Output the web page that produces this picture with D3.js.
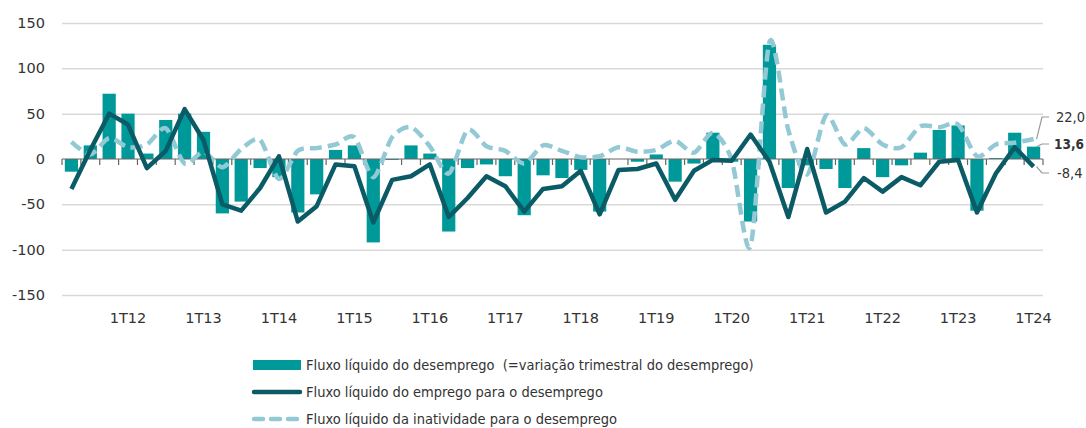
<!DOCTYPE html>
<html>
<head>
<meta charset="utf-8">
<script src="https://cdn.jsdelivr.net/npm/d3@7"></script>
<style>
  body { margin: 0; background: #fff; }
  svg { display: block; }
  .axis text { font-family: "DejaVu Sans", Verdana, sans-serif; font-size: 14.5px; fill: #333; }
  .legend text { font-family: "DejaVu Sans Condensed", "DejaVu Sans", sans-serif; font-size: 14.5px; fill: #333; }
  .endlabel { font-family: "DejaVu Sans Condensed", "DejaVu Sans", sans-serif; font-size: 14.5px; fill: #333; }
</style>
</head>
<body>
<div id="chart-area"></div>
<script>
// trimestres 2T11 .. 1T24
let trimestres = [
  '2T11', '3T11', '4T11',
  '1T12', '2T12', '3T12', '4T12',
  '1T13', '2T13', '3T13', '4T13',
  '1T14', '2T14', '3T14', '4T14',
  '1T15', '2T15', '3T15', '4T15',
  '1T16', '2T16', '3T16', '4T16',
  '1T17', '2T17', '3T17', '4T17',
  '1T18', '2T18', '3T18', '4T18',
  '1T19', '2T19', '3T19', '4T19',
  '1T20', '2T20', '3T20', '4T20',
  '1T21', '2T21', '3T21', '4T21',
  '1T22', '2T22', '3T22', '4T22',
  '1T23', '2T23', '3T23', '4T23',
  '1T24'
]

// fluxo liquido do desemprego (barras)
let desemprego = [-14, 15, 72, 50, 6, 43, 50, 30, -60, -47, -10, -20, -59, -39, 10, 15,
  -92, -1, 15, 6, -80, -10, -6, -19, -62, -18, -21, -12, -58, 0, -3, 5,
  -25, -5, 29, -3, -69, 126, -32, -7, -11, -32, 12, -20, -7, 7, 32, 37,
  -57, 1, 29, 13.6]

// fluxo liquido do emprego para o desemprego
let emprego = [-33, 10, 50, 38, -10, 9, 55, 21, -50, -57, -32, 3, -69, -52, -6, -8,
  -70, -23, -19, -6, -64, -43, -19, -30, -58, -33, -30, -13, -61, -12, -11, -5,
  -45, -13, -1, -2, 27, -3, -64, 11, -59, -47, -21, -36, -20, -29, -3, -1,
  -59, -16, 13, -8.4]

// fluxo liquido da inatividade para o desemprego
let inatividade = [19, 5, 23, 13, 16, 34, -5, 8, -9, 11, 21, -22, 9, 12, 16, 24,
  -20, 24, 35, 14, -16, 32, 14, 9, -5, 15, 9, 2, 3, 13, 8, 10,
  20, 7, 29, -1, -96, 129, 32, -17, 48, 16, 34, 16, 13, 36, 35, 38,
  3, 16, 18, 22.0]

let yTicks = [-150, -100, -50, 0, 50, 100, 150]
let legendas = [
  'Fluxo líquido do desemprego  (=variação trimestral do desemprego)',
  'Fluxo líquido do emprego para o desemprego',
  'Fluxo líquido da inatividade para o desemprego'
]

let corBarra = '#009999'
let corEmprego = '#0b5b66'
let corInatividade = '#93c9d4'

let width = 1086
let height = 428
let plot = { left: 62, right: 1043, top: 23, bottom: 295 }

let svg = d3.select('#chart-area').append('svg')
  .attr('width', width)
  .attr('height', height)

let x = d3.scaleBand()
  .domain(trimestres)
  .range([plot.left, plot.right])
  .paddingInner(0.3)
  .paddingOuter(0.15)

let y = d3.scaleLinear()
  .domain([-150, 150])
  .range([plot.bottom, plot.top])

let cx = d => x(d) + x.bandwidth() / 2

// grelha
let yAxisGroup = svg.append('g')
  .attr('class', 'axis')
  .attr('transform', 'translate(' + plot.left + ', 0)')
  .call(d3.axisLeft(y).tickValues(yTicks).tickFormat(d => String(d))
    .tickSize(-(plot.right - plot.left)).tickPadding(17))
yAxisGroup.select('.domain').remove()
yAxisGroup.selectAll('.tick line')
  .attr('stroke', (d) => d === 0 ? 'none' : '#d9d9d9')
  .attr('stroke-width', 1.5)

// barras
svg.append('g').selectAll('rect')
  .data(trimestres)
  .enter().append('rect')
    .attr('x', d => x(d))
    .attr('width', x.bandwidth())
    .attr('y', (d, i) => y(Math.max(0, desemprego[i])))
    .attr('height', (d, i) => Math.abs(y(desemprego[i]) - y(0)))
    .attr('fill', corBarra)

// eixo zero com marcas
let step = x.step()
let zeroGroup = svg.append('g')
zeroGroup.append('line')
  .attr('x1', plot.left).attr('x2', plot.right)
  .attr('y1', y(0)).attr('y2', y(0))
  .attr('stroke', '#666').attr('stroke-width', 1.2)
zeroGroup.selectAll('.tk')
  .data(trimestres.concat(['fim']))
  .enter().append('line')
    .attr('class', 'tk')
    .attr('x1', (d, i) => plot.left + i * step)
    .attr('x2', (d, i) => plot.left + i * step)
    .attr('y1', y(0)).attr('y2', y(0) + 6)
    .attr('stroke', '#666').attr('stroke-width', 1.2)

// linhas
let linhaEmprego = d3.line()
  .x((d, i) => cx(trimestres[i]))
  .y(d => y(d))

let linhaInatividade = d3.line()
  .x((d, i) => cx(trimestres[i]))
  .y(d => y(d))
  .curve(d3.curveCardinal.tension(0.2))

svg.append('path')
  .datum(inatividade)
  .attr('d', linhaInatividade)
  .attr('fill', 'none')
  .attr('stroke', corInatividade)
  .attr('stroke-width', 4.5)
  .attr('stroke-dasharray', '12,6')

svg.append('path')
  .datum(emprego)
  .attr('d', linhaEmprego)
  .attr('fill', 'none')
  .attr('stroke', corEmprego)
  .attr('stroke-width', 4.5)
  .attr('stroke-linejoin', 'round')

// rotulos do eixo x
let xLabels = svg.append('g').attr('class', 'axis')
xLabels.selectAll('text')
  .data(trimestres.filter(t => t.startsWith('1T')))
  .enter().append('text')
    .attr('x', d => cx(d))
    .attr('y', 323)
    .attr('text-anchor', 'middle')
    .text(d => d)

// rotulos finais
let fmt = v => d3.format('.1f')(v).replace('.', ',').replace('\u2212', '-')
let last = trimestres.length - 1
let xEnd = cx(trimestres[last])
let finais = [
  { v: inatividade[last], ly: 117, bold: false },
  { v: desemprego[last], ly: 144, bold: true },
  { v: emprego[last], ly: 173, bold: false }
]
finais.forEach(f => {
  let y0 = y(f.v)
  svg.append('polyline')
    .attr('points', [[xEnd + 3, y0], [plot.right - 1, f.ly], [plot.right + 6, f.ly]].map(p => p.join(',')).join(' '))
    .attr('fill', 'none')
    .attr('stroke', '#999')
    .attr('stroke-width', 1.2)
  svg.append('text')
    .attr('class', 'endlabel')
    .attr('x', f.bold ? plot.right + 11 : (f.v < 0 ? plot.right + 14 : plot.right + 13))
    .attr('y', f.ly + 5)
    .style('font-weight', f.bold ? 'bold' : 'normal')
    .style('font-size', f.bold ? '13.5px' : null)
    .text(fmt(f.v))
})

// legenda
let legend = svg.append('g').attr('class', 'legend')
let rowY = [365, 392, 419]
legend.append('rect')
  .attr('x', 253).attr('y', rowY[0] - 5)
  .attr('width', 48).attr('height', 10)
  .attr('fill', corBarra)
legend.append('line')
  .attr('x1', 254).attr('x2', 300)
  .attr('y1', rowY[1]).attr('y2', rowY[1])
  .attr('stroke', corEmprego).attr('stroke-width', 4.5).attr('stroke-linecap', 'round')
legend.append('line')
  .attr('x1', 254).attr('x2', 300)
  .attr('y1', rowY[2]).attr('y2', rowY[2])
  .attr('stroke', corInatividade).attr('stroke-width', 4.5)
  .attr('stroke-linecap', 'round').attr('stroke-dasharray', '9,8')
legend.selectAll('text')
  .data(legendas)
  .enter().append('text')
    .attr('x', 306)
    .attr('y', (d, i) => rowY[i] + 5)
    .attr('xml:space', 'preserve')
    .style('white-space', 'pre')
    .text(d => d)
</script>
</body>
</html>
